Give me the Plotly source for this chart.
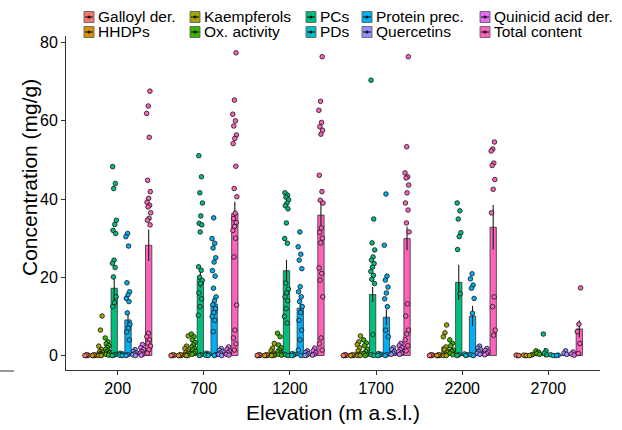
import plotly.graph_objects as go

# ---------------- data ----------------
elevations = ["200", "700", "1200", "1700", "2200", "2700"]

series_names = ["Galloyl der.", "HHDPs", "Kaempferols", "Ox. activity", "PCs",
                "PDs", "Protein prec.", "Quercetins", "Quinicid acid der.", "Total content"]
series_colors = ["#F8766D", "#D89000", "#A3A500", "#39B600", "#00BF7D",
                 "#00BFC4", "#00B0F6", "#9590FF", "#E76BF3", "#FF62BC"]

# bar means (mg/g) per elevation
galloyl_mean = [0.1, 0.1, 0.1, 0.1, 0.1, 0.05]
hhdps_mean = [0.1, 0.1, 0.1, 0.1, 0.1, 0.05]
kaempferols_mean = [1.0, 0.8, 0.6, 0.9, 2.2, 0.2]
oxactivity_mean = [1.3, 1.6, 1.2, 0.9, 1.6, 0.7]
pcs_mean = [17.2, 19.5, 21.7, 15.6, 18.7, 0.7]
pds_mean = [0.2, 0.2, 0.2, 0.2, 0.1, 0.1]
protein_mean = [9.1, 13.2, 12.1, 9.8, 10.1, 0.1]
quercetins_mean = [0.5, 0.8, 0.4, 0.9, 1.2, 0.5]
quinicid_mean = [0.9, 0.8, 0.7, 1.2, 0.8, 0.4]
total_mean = [28.2, 36.3, 35.9, 29.9, 32.8, 6.8]

# standard errors
galloyl_se = [0.05, 0.05, 0.05, 0.05, 0.05, 0.05]
hhdps_se = [0.05, 0.05, 0.05, 0.05, 0.05, 0.05]
kaempferols_se = [0.4, 0.3, 0.2, 0.3, 0.5, 0.1]
oxactivity_se = [0.3, 0.3, 0.3, 0.3, 0.3, 0.2]
pcs_se = [3.2, 2.2, 2.8, 1.9, 4.5, 1.2]
pds_se = [0.05, 0.05, 0.05, 0.05, 0.05, 0.05]
protein_se = [2.1, 1.9, 1.7, 2.0, 2.6, 0.05]
quercetins_se = [0.2, 0.2, 0.2, 0.2, 0.3, 0.2]
quinicid_se = [0.3, 0.3, 0.2, 0.3, 0.2, 0.2]
total_se = [4.0, 3.0, 3.8, 3.0, 5.7, 2.2]

# individual samples per elevation
galloyl_pts = [[0, 0, 0.1, 0.2, 0], [0, 0, 0.1, 0.2, 0], [0, 0, 0.1, 0.2, 0],
               [0, 0, 0.1, 0.2, 0], [0, 0, 0.1, 0.2, 0], [0, 0.1, 0]]
hhdps_pts = [[0, 0, 0.1, 0.2, 0], [0, 0, 0.1, 0.2, 0], [0, 0, 0.1, 0.2, 0],
             [0, 0, 0.1, 0.2, 0], [0, 0, 0.1, 0.2, 0], [0, 0.1, 0]]
kaempferols_pts = [[10.1, 6.5, 2.4, 1.5, 1.0, 0.8, 0.5, 0.3, 0.2, 0.1, 0, 0],
                   [5.0, 2.4, 1.8, 1.2, 0.8, 0.5, 0.3, 0.1, 0, 0],
                   [3.1, 1.9, 1.2, 0.6, 0.3, 0.1, 0, 0],
                   [5.0, 3.5, 2.8, 2.0, 1.2, 0.6, 0.2, 0, 0],
                   [7.8, 5.8, 4.8, 2.2, 1.5, 0.8, 0.3, 0, 0],
                   [0.3, 0.1, 0]]
oxactivity_pts = [[4.5, 3.5, 3.0, 2.5, 2.0, 1.6, 1.2, 0.9, 0.7, 0.5, 0.3, 0.1],
                  [5.5, 4.8, 4.0, 3.3, 2.7, 2.2, 1.8, 1.4, 1.0, 0.6, 0.3],
                  [5.7, 4.8, 2.7, 2.0, 1.4, 1.0, 0.6, 0.3, 0.1],
                  [4.0, 3.2, 2.5, 1.6, 1.0, 0.5, 0.2, 0],
                  [4.0, 3.1, 2.5, 1.4, 1.0, 0.6, 0.2],
                  [1.2, 0.9, 0.5, 0.3]]
pcs_pts = [[48.3, 44.0, 42.7, 34.6, 33.5, 32.0, 31.2, 24.4, 23.6, 22.5, 20.1, 15.0, 13.5, 12.5, 0.3, 0.1, 0],
           [51.1, 45.7, 41.6, 39.0, 35.7, 33.8, 33.4, 31.6, 22.7, 21.8, 20.0, 19.2, 18.4, 16.0, 14.5, 12.5, 10.3, 0.2, 0],
           [41.6, 41.0, 40.5, 39.8, 39.0, 38.3, 37.5, 33.9, 29.9, 28.7, 18.5, 17.0, 16.0, 15.0, 14.0, 12.0, 10.0, 8.3, 0.2, 0],
           [70.4, 34.9, 28.8, 27.0, 25.2, 24.4, 23.5, 22.6, 21.5, 20.5, 19.5, 18.4, 5.4, 0.2, 0],
           [39.0, 37.0, 34.9, 31.4, 30.4, 27.1, 15.8, 0.2, 0],
           [5.5, 1.2, 0.6, 0.2]]
pds_pts = [[0.6, 0.4, 0.2, 0.1, 0], [0.6, 0.4, 0.2, 0.1, 0], [0.5, 0.3, 0.1, 0],
           [0.5, 0.3, 0.1, 0], [0.4, 0.2, 0], [0.2, 0]]
protein_pts = [[31.2, 30.4, 28.0, 18.6, 16.3, 15.5, 14.6, 13.8, 10.9, 8.0, 7.0, 6.0, 4.0, 0.2, 0],
               [35.2, 29.9, 28.7, 27.5, 25.0, 23.9, 21.7, 20.3, 17.2, 15.0, 14.0, 13.0, 12.0, 11.0, 10.0, 9.0, 6.1, 0.2, 0],
               [31.6, 27.8, 25.9, 24.4, 22.2, 17.6, 16.3, 15.0, 13.8, 12.5, 11.0, 9.0, 6.5, 4.0, 1.4, 0],
               [41.3, 28.2, 20.3, 19.3, 17.5, 16.0, 14.5, 12.5, 6.5, 4.8, 0.2, 0],
               [20.9, 19.6, 18.0, 17.2, 14.6, 10.8, 0.2, 0],
               [0.1, 0]]
quercetins_pts = [[1.5, 1.0, 0.7, 0.4, 0.2, 0], [1.8, 1.3, 1.0, 0.6, 0.3, 0],
                  [1.2, 0.8, 0.4, 0.1, 0], [2.0, 1.5, 1.0, 0.6, 0.3],
                  [2.4, 1.9, 1.5, 1.0, 0.6, 0.3], [1.2, 0.6, 0.3]]
quinicid_pts = [[2.8, 2.0, 1.5, 1.0, 0.6, 0.3, 0.1], [2.2, 1.6, 1.1, 0.7, 0.3, 0.1],
                [1.9, 1.2, 0.7, 0.3, 0.1], [3.1, 2.5, 2.0, 1.5, 1.0, 0.6, 0.3],
                [1.8, 1.3, 0.9, 0.5, 0.2], [0.9, 0.4, 0.1]]
total_pts = [[67.6, 63.8, 61.9, 55.8, 44.8, 41.9, 40.2, 39.2, 38.4, 38.0, 36.5, 35.1, 34.6, 33.4, 5.7, 4.8, 4.0, 3.2, 2.4, 1.5, 0.6],
             [77.4, 65.3, 61.7, 60.0, 58.7, 56.4, 55.5, 54.2, 48.4, 42.7, 40.6, 36.4, 35.0, 34.0, 33.0, 32.0, 30.0, 25.2, 12.9, 6.5, 4.5, 3.0, 1.4],
             [76.4, 65.0, 62.7, 59.6, 58.5, 57.6, 56.6, 46.1, 41.9, 39.7, 39.0, 32.6, 31.5, 30.0, 28.8, 22.4, 21.0, 19.3, 15.0, 4.5, 3.0, 1.4],
             [76.4, 53.4, 46.7, 45.7, 45.4, 43.6, 41.6, 39.0, 37.2, 33.9, 31.6, 13.2, 10.1, 6.5, 5.5, 4.0, 2.5, 1.2],
             [54.6, 52.8, 52.3, 49.2, 48.6, 45.0, 42.5, 36.5, 15.0, 12.5, 6.5, 5.2],
             [17.3, 8.0, 6.1, 3.1, 0.5]]

y_ticks = [0, 20, 40, 60, 80]

series_means = [galloyl_mean, hhdps_mean, kaempferols_mean, oxactivity_mean, pcs_mean,
                pds_mean, protein_mean, quercetins_mean, quinicid_mean, total_mean]
series_se = [galloyl_se, hhdps_se, kaempferols_se, oxactivity_se, pcs_se,
             pds_se, protein_se, quercetins_se, quinicid_se, total_se]
series_pts = [galloyl_pts, hhdps_pts, kaempferols_pts, oxactivity_pts, pcs_pts,
              pds_pts, protein_pts, quercetins_pts, quinicid_pts, total_pts]

# ---------------- layout geometry ----------------
W, H = 622, 430
ML, MR, MT, MB = 66, 22, 36, 60
PW, PH = W - ML - MR, H - MT - MB
FONT = "Liberation Sans, Arial, sans-serif"

def px_x(px):
    return (px - ML) / PW

def px_y(py):
    return (H - MB - py) / PH

slot = 0.08
n_s = len(series_names)

fig = go.Figure()

# bars with error bars
for s in range(n_s):
    off = (s - (n_s - 1) / 2) * slot
    fig.add_trace(go.Bar(
        x=[g + off for g in range(len(elevations))],
        y=series_means[s],
        width=slot * 0.92,
        marker=dict(color=series_colors[s], line=dict(color="#333333", width=0.8)),
        error_y=dict(type="data", array=series_se[s], visible=True,
                     thickness=1.1, width=0, color="#1a1a1a"),
        name=series_names[s], showlegend=False, hoverinfo="skip",
    ))

# jittered sample points
for s in range(n_s):
    off = (s - (n_s - 1) / 2) * slot
    xs, ys = [], []
    for g in range(len(elevations)):
        for k, v in enumerate(series_pts[s][g]):
            jit = (((k + 1) * 0.6180339 + s * 0.13) % 1 - 0.5) * 0.05
            xs.append(g + off + jit)
            ys.append(v)
    fig.add_trace(go.Scatter(
        x=xs, y=ys, mode="markers",
        marker=dict(size=4.6, color=series_colors[s],
                    line=dict(color="#111111", width=0.8)),
        showlegend=False, hoverinfo="skip",
    ))

# ---------------- manual legend (two rows, column-major) ----------------
key_cols = [84, 190, 306, 362, 480]
row_y = [17, 32]
shapes = []
annotations = []
for s in range(n_s):
    col, row = s // 2, s % 2
    kx, ky = key_cols[col], row_y[row]
    shapes.append(dict(type="rect", xref="paper", yref="paper",
                       x0=px_x(kx), x1=px_x(kx + 10), y0=px_y(ky + 5.5), y1=px_y(ky - 5.5),
                       fillcolor=series_colors[s], line=dict(color="#555555", width=0.8)))
    shapes.append(dict(type="line", xref="paper", yref="paper",
                       x0=px_x(kx + 1), x1=px_x(kx + 9), y0=px_y(ky), y1=px_y(ky),
                       line=dict(color="#111111", width=1)))
    shapes.append(dict(type="circle", xref="paper", yref="paper",
                       x0=px_x(kx + 3.5), x1=px_x(kx + 6.5), y0=px_y(ky + 1.5), y1=px_y(ky - 1.5),
                       fillcolor="#111111", line=dict(width=0)))
    annotations.append(dict(text=series_names[s], xref="paper", yref="paper",
                            x=px_x(kx + 11.5), y=px_y(ky), xanchor="left", yanchor="middle",
                            showarrow=False, font=dict(family=FONT, size=15.5, color="#000000")))

# axis titles
annotations.append(dict(text="Elevation (m a.s.l.)", xref="paper", yref="paper",
                        x=0.5, y=px_y(412), xanchor="center", yanchor="middle",
                        showarrow=False, font=dict(family=FONT, size=21, color="#000000")))
annotations.append(dict(text="Concentration (mg/g)", xref="paper", yref="paper",
                        x=px_x(29), y=px_y(178), xanchor="center", yanchor="middle", textangle=-90,
                        showarrow=False, font=dict(family=FONT, size=21, color="#000000")))

# small stray stroke at lower-left seen in the reference
shapes.append(dict(type="line", xref="paper", yref="paper",
                   x0=px_x(0), x1=px_x(14), y0=px_y(371), y1=px_y(371),
                   line=dict(color="#333333", width=1)))

fig.update_layout(
    width=W, height=H,
    margin=dict(l=ML, r=MR, t=MT, b=MB, autoexpand=False),
    paper_bgcolor="white", plot_bgcolor="white",
    barmode="overlay",
    font=dict(family=FONT, color="#000000"),
    xaxis=dict(range=[-0.6, len(elevations) - 0.4], tickmode="array",
               tickvals=list(range(len(elevations))), ticktext=elevations,
               showline=True, linecolor="#333333", linewidth=1,
               ticks="outside", ticklen=4, tickcolor="#333333",
               showgrid=False, zeroline=False,
               tickfont=dict(family=FONT, size=16, color="#000000")),
    yaxis=dict(range=[-3.7, 81.7], tickmode="array", tickvals=y_ticks,
               showline=True, linecolor="#333333", linewidth=1,
               ticks="outside", ticklen=4, tickcolor="#333333",
               showgrid=False, zeroline=False,
               tickfont=dict(family=FONT, size=16, color="#000000")),
    shapes=shapes, annotations=annotations,
    showlegend=False,
)

fig.write_html("out.html")
